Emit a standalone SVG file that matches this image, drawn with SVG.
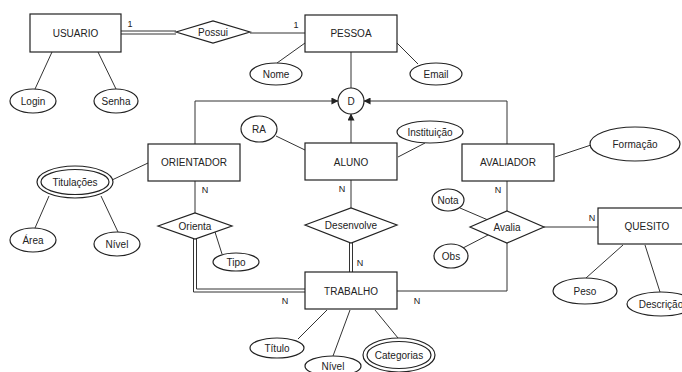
<svg xmlns="http://www.w3.org/2000/svg" width="682" height="372" viewBox="0 0 682 372">
<defs>
<marker id="arr" viewBox="0 0 8 8" refX="7.5" refY="4" markerWidth="7" markerHeight="7" orient="auto" markerUnits="userSpaceOnUse">
<path d="M0,0 L8,4 L0,8 Z" fill="#222"/>
</marker>
</defs>
<style>
text{font-family:"Liberation Sans",Arial,sans-serif;font-size:10px;fill:#222;text-anchor:middle;dominant-baseline:central}
.box{fill:#fff;stroke:#222;stroke-width:1.2}
.ln{fill:none;stroke:#333;stroke-width:1}
.lbl{font-size:9px}
</style>
<rect width="682" height="372" fill="#fff"/>
<g id="connectors">
<path class="ln" d="M121,31 H176 M121,34 H176"/>
<path class="ln" d="M52,52 L35,89"/>
<path class="ln" d="M98,52 L116,89"/>
<path class="ln" d="M250,33 H305"/>
<path class="ln" d="M305,43 L277,63"/>
<path class="ln" d="M397,43 L418,64"/>
<path class="ln" d="M351,52 V88"/>
<path class="ln" d="M195,144 V101 H338" marker-end="url(#arr)"/>
<path class="ln" d="M507,144 V101 H364" marker-end="url(#arr)"/>
<path class="ln" d="M351,143 V114" marker-end="url(#arr)"/>
<path class="ln" d="M148,163 L112,180"/>
<path class="ln" d="M49,196 L35,228"/>
<path class="ln" d="M101,196 L118,232"/>
<path class="ln" d="M195,181 V213"/>
<path class="ln" d="M215,232 L222,254"/>
<path class="ln" d="M193.5,239 V292 H305 M196.5,239 V289 H305"/>
<path class="ln" d="M276,136 L305,150"/>
<path class="ln" d="M398,157 L425,143"/>
<path class="ln" d="M351,180 V208"/>
<path class="ln" d="M349.5,243 V272 M352.5,243 V272"/>
<path class="ln" d="M555,157 L591,145"/>
<path class="ln" d="M507,181 V211"/>
<path class="ln" d="M460,208 L488,220"/>
<path class="ln" d="M463,248 L490,234"/>
<path class="ln" d="M507,243 V291 H397"/>
<path class="ln" d="M544,227 H598"/>
<path class="ln" d="M623,245 L586,278"/>
<path class="ln" d="M645,245 L660,292"/>
<path class="ln" d="M327,310 L298,339"/>
<path class="ln" d="M350,310 L333,356"/>
<path class="ln" d="M375,310 L398,338"/>
<text class="lbl" x="130" y="24">1</text>
<text class="lbl" x="296" y="25">1</text>
<text class="lbl" x="205" y="190">N</text>
<text class="lbl" x="342" y="189">N</text>
<text class="lbl" x="498" y="190">N</text>
<text class="lbl" x="360" y="263">N</text>
<text class="lbl" x="285" y="301">N</text>
<text class="lbl" x="417" y="301">N</text>
<text class="lbl" x="592" y="218">N</text>
</g>
<g id="usuario"><rect class="box" x="30" y="14" width="91" height="38"/><text x="75.5" y="33">USUARIO</text></g>
<g id="login"><ellipse class="box" cx="33" cy="101" rx="23" ry="12"/><text x="33" y="101">Login</text></g>
<g id="senha"><ellipse class="box" cx="116" cy="101" rx="22" ry="12"/><text x="116" y="101">Senha</text></g>
<g id="possui"><path class="box" d="M176,32 L213,21 L250,32 L213,43 Z"/><text x="213" y="32">Possui</text></g>
<g id="pessoa"><rect class="box" x="305" y="15" width="92" height="37"/><text x="351" y="33">PESSOA</text></g>
<g id="nome"><ellipse class="box" cx="276" cy="74" rx="26" ry="11"/><text x="276" y="74">Nome</text></g>
<g id="email"><ellipse class="box" cx="436" cy="74" rx="26" ry="11"/><text x="436" y="74">Email</text></g>
<g id="d"><circle class="box" cx="351" cy="101" r="13"/><text x="351" y="101">D</text></g>
<g id="orientador"><rect class="box" x="148" y="144" width="92" height="37"/><text x="194" y="162">ORIENTADOR</text></g>
<g id="titulacoes"><ellipse class="box" cx="75" cy="182" rx="38" ry="16"/><ellipse class="box" cx="75" cy="182" rx="34" ry="12.5"/><text x="75" y="182">Titulações</text></g>
<g id="area"><ellipse class="box" cx="33" cy="240" rx="23" ry="12"/><text x="33" y="240">Área</text></g>
<g id="nivel1"><ellipse class="box" cx="117" cy="244" rx="23" ry="12"/><text x="117" y="244">Nível</text></g>
<g id="orienta"><path class="box" d="M158,226 L195,213 L232,226 L195,239 Z"/><text x="195" y="226">Orienta</text></g>
<g id="tipo"><ellipse class="box" cx="236" cy="262" rx="23" ry="9"/><text x="236" y="262">Tipo</text></g>
<g id="ra"><ellipse class="box" cx="259" cy="129" rx="18" ry="13"/><text x="259" y="129">RA</text></g>
<g id="aluno"><rect class="box" x="305" y="143" width="92" height="37"/><text x="351" y="162">ALUNO</text></g>
<g id="instituicao"><ellipse class="box" cx="430" cy="132" rx="33" ry="11"/><text x="430" y="132">Instituição</text></g>
<g id="desenvolve"><path class="box" d="M305,225 L351,208 L397,225 L351,243 Z"/><text x="351" y="225">Desenvolve</text></g>
<g id="avaliador"><rect class="box" x="462" y="144" width="92" height="37"/><text x="508" y="162">AVALIADOR</text></g>
<g id="formacao"><ellipse class="box" cx="635" cy="144" rx="45" ry="17"/><text x="635" y="144">Formação</text></g>
<g id="avalia"><path class="box" d="M470,227 L507,211 L544,227 L507,243 Z"/><text x="507" y="227">Avalia</text></g>
<g id="nota"><ellipse class="box" cx="448" cy="200" rx="16" ry="11"/><text x="448" y="200">Nota</text></g>
<g id="obs"><ellipse class="box" cx="451" cy="256" rx="17" ry="12"/><text x="451" y="256">Obs</text></g>
<g id="quesito"><rect class="box" x="598" y="208" width="96" height="36"/><text x="647" y="226">QUESITO</text></g>
<g id="peso"><ellipse class="box" cx="585" cy="291" rx="32" ry="13"/><text x="585" y="291">Peso</text></g>
<g id="descricao"><ellipse class="box" cx="661" cy="304" rx="34" ry="12"/><text x="661" y="304">Descrição</text></g>
<g id="trabalho"><rect class="box" x="305" y="272" width="92" height="37"/><text x="351" y="291">TRABALHO</text></g>
<g id="titulo"><ellipse class="box" cx="277" cy="348" rx="27" ry="10"/><text x="277" y="348">Título</text></g>
<g id="nivel2"><ellipse class="box" cx="333" cy="366" rx="28" ry="10"/><text x="333" y="366">Nível</text></g>
<g id="categorias"><ellipse class="box" cx="399" cy="355" rx="36" ry="17"/><ellipse class="box" cx="399" cy="355" rx="32" ry="13.5"/><text x="399" y="355">Categorias</text></g>
</svg>
